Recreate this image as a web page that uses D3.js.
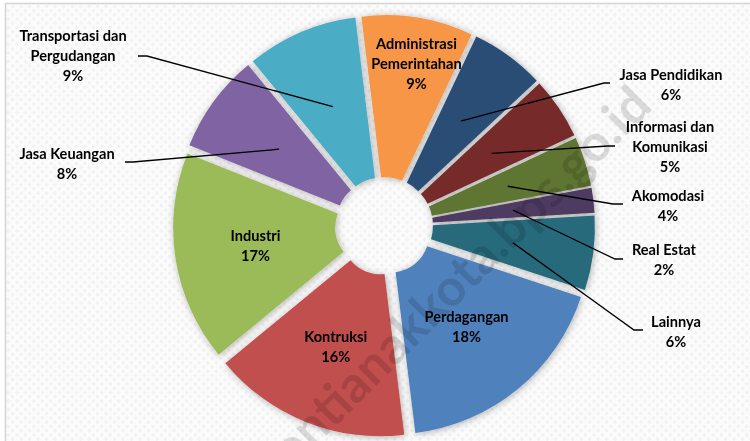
<!DOCTYPE html>
<html>
<head>
<meta charset="utf-8">
<script src="https://cdn.jsdelivr.net/npm/d3@7"></script>
<style>
  body { margin: 0; background: #fff; }
  svg text { font-family: Lato, "Open Sans", sans-serif; font-weight: bold; }
</style>
</head>
<body>
<div id="graph"></div>
<script>
// Data (Excel series order, first point is Perdagangan)
const sectors = ["Perdagangan", "Kontruksi", "Industri", "Jasa Keuangan", "Transportasi dan Pergudangan",
    "Administrasi Pemerintahan", "Jasa Pendidikan", "Informasi dan Komunikasi", "Akomodasi", "Real Estat", "Lainnya"];
const shares = [18, 16, 17, 8, 9, 9, 6, 5, 4, 2, 6];
const labelLines = [["Perdagangan"], ["Kontruksi"], ["Industri"], ["Jasa Keuangan"], ["Transportasi dan", "Pergudangan"],
    ["Administrasi", "Pemerintahan"], ["Jasa Pendidikan"], ["Informasi dan", "Komunikasi"], ["Akomodasi"], ["Real Estat"], ["Lainnya"]];
const colors = ["#4F81BD", "#C0504D", "#9BBB59", "#8064A2", "#4BACC6", "#F79646",
    "#2C4D75", "#772C2A", "#5F7530", "#4D3B62", "#276A7C"];

const width = 750, height = 441;
const cx = 384, cy = 226;
const innerR = 38, outerR = 200, explode = 11;
const lineH = 20;

// outside labels: text centre + leader stub (label side)
const outside = {
    "Transportasi dan Pergudangan": {x: 73, y: 36, stub: [[138, 56], [147, 56]]},
    "Jasa Keuangan": {x: 67, y: 154, stub: [[125, 162], [133, 162]]},
    "Jasa Pendidikan": {x: 671, y: 75, stub: [[610, 83], [604, 83]]},
    "Informasi dan Komunikasi": {x: 670, y: 127, stub: [[615, 146], [608, 146]]},
    "Akomodasi": {x: 668, y: 196, stub: [[623, 204], [613, 204]]},
    "Real Estat": {x: 664, y: 250, stub: [[623, 259], [615, 259]]},
    "Lainnya": {x: 676, y: 322, stub: [[643, 330], [634, 330]]}
};
// inside labels pushed out along the bisector
const insideR = {"Administrasi Pemerintahan": 154};

let svg = d3.select("#graph")
    .append("svg")
    .attr("width", width)
    .attr("height", height);

let defs = svg.append("defs");
let pat = defs.append("pattern")
    .attr("id", "bgpat")
    .attr("width", 6).attr("height", 6)
    .attr("patternUnits", "userSpaceOnUse")
    .attr("patternTransform", "rotate(45)");
pat.append("rect").attr("width", 6).attr("height", 6).attr("fill", "#fbfbfb");
pat.append("rect").attr("width", 3).attr("height", 3).attr("fill", "#f1f1f1");

let shadow = defs.append("filter")
    .attr("id", "shadow")
    .attr("x", "-20%").attr("y", "-20%")
    .attr("width", "140%").attr("height", "140%");
shadow.append("feDropShadow")
    .attr("dx", 1).attr("dy", 1)
    .attr("stdDeviation", 3.5)
    .attr("flood-color", "#000")
    .attr("flood-opacity", 0.3);

// chart area + frame
svg.append("rect")
    .attr("x", 5.5).attr("y", 3.5)
    .attr("width", width).attr("height", height)
    .attr("fill", "url(#bgpat)")
    .attr("stroke", "#d4d4d4")
    .attr("stroke-width", 1.5);

const data = sectors.map((s, i) => ({name: s, value: shares[i], lines: labelLines[i], color: colors[i]}));

const start = 108.2 * Math.PI / 180;
let pie = d3.pie()
    .sort(null)
    .value(d => d.value)
    .startAngle(start)
    .endAngle(start + 2 * Math.PI);

let arc = d3.arc()
    .innerRadius(innerR)
    .outerRadius(outerR);

const arcs = pie(data);

// offset of each exploded slice
function shift(d) {
    const mid = (d.startAngle + d.endAngle) / 2;
    return [cx + explode * Math.sin(mid), cy - explode * Math.cos(mid)];
}

let slices = svg.append("g").attr("filter", "url(#shadow)");
slices.selectAll("path")
    .data(arcs)
    .enter()
    .append("path")
    .attr("transform", d => `translate(${shift(d)})`)
    .attr("d", arc)
    .attr("fill", d => d.data.color);

// watermark
svg.append("text")
    .attr("transform", "translate(654, 108) rotate(-45)")
    .attr("text-anchor", "end")
    .style("font-size", "51px")
    .attr("fill", "#000")
    .attr("fill-opacity", 0.13)
    .text("pontianakkota.bps.go.id");

let labels = svg.append("g");

arcs.forEach(function(d) {
    const o = shift(d);
    const c = arc.centroid(d);
    const lines = d.data.lines.concat([d.data.value + "%"]);
    const pos = outside[d.data.name];
    let lx, ly;
    if (pos) {
        lx = pos.x;
        ly = pos.y;
        const pts = pos.stub.concat([[o[0] + c[0], o[1] + c[1]]]);
        labels.append("path")
            .attr("d", d3.line()(pts))
            .attr("fill", "none")
            .attr("stroke", "#000")
            .attr("stroke-width", 1.3);
    } else {
        let p = c;
        if (insideR[d.data.name]) {
            const mid = (d.startAngle + d.endAngle) / 2 + 0.04;
            p = [insideR[d.data.name] * Math.sin(mid), -insideR[d.data.name] * Math.cos(mid)];
        }
        lx = o[0] + p[0];
        ly = o[1] + p[1] - (lines.length - 1) * lineH / 2;
    }
    let t = labels.append("text")
        .attr("text-anchor", "middle")
        .style("font-size", "14.6px")
        .attr("fill", "#000");
    lines.forEach(function(l, i) {
        t.append("tspan")
            .attr("x", lx)
            .attr("y", ly + i * lineH)
            .attr("dy", "0.35em")
            .text(l);
    });
});
</script>
</body>
</html>
